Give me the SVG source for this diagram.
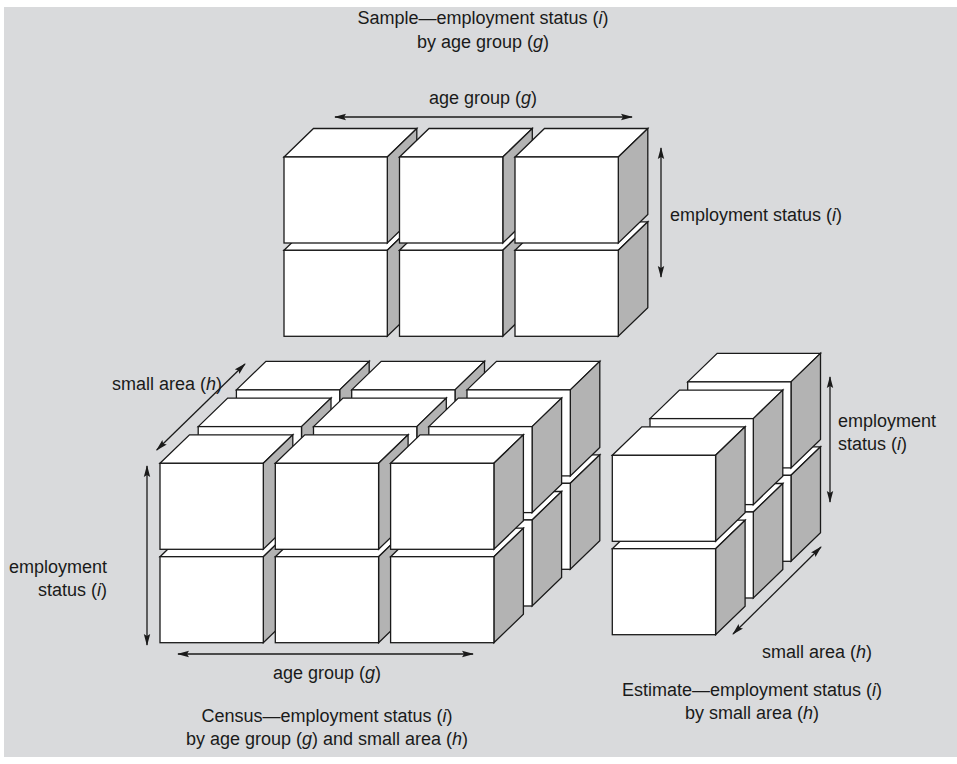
<svg xmlns="http://www.w3.org/2000/svg" xmlns:xlink="http://www.w3.org/1999/xlink" width="957" height="764" viewBox="0 0 957 764">
<style>
.face{stroke:#1a1a1a;stroke-width:1.3;stroke-linejoin:miter}
.front,.top{fill:#ffffff}
.side{fill:#b3b3b3}
.lbl{font-family:"Liberation Sans",Arial,sans-serif;font-size:18px;fill:#1a1a1a}
.mid{text-anchor:middle}
.end{text-anchor:end}
.it{font-style:italic}
.arr{stroke:#1a1a1a;stroke-width:1.3;fill:none;marker-start:url(#ah);marker-end:url(#ah)}
</style>
<defs>
<marker id="ah" viewBox="0 0 12 8" refX="11" refY="4" markerWidth="12" markerHeight="8" markerUnits="userSpaceOnUse" orient="auto-start-reverse">
<path d="M0,0.8 L12,4 L0,7.2 L2,4 Z" fill="#1a1a1a"/>
</marker>
<g id="cube">
<polygon class="face top" points="0,0 29.5,-28.5 132.8,-28.5 103.3,0"/>
<polygon class="face side" points="103.3,0 132.8,-28.5 132.8,57.5 103.3,86"/>
<rect class="face front" x="0" y="0" width="103.3" height="86"/>
</g>
</defs>
<rect x="4" y="7" width="953" height="750" fill="#d9dadc"/>

<!-- Sample block -->
<g id="sample">
<g id="s-b1"><use xlink:href="#cube" x="284" y="250.3"/></g>
<g id="s-b2"><use xlink:href="#cube" x="399.5" y="250.3"/></g>
<g id="s-b3"><use xlink:href="#cube" x="515" y="250.3"/></g>
<g id="s-t1"><use xlink:href="#cube" x="284" y="157"/></g>
<g id="s-t2"><use xlink:href="#cube" x="399.5" y="157"/></g>
<g id="s-t3"><use xlink:href="#cube" x="515" y="157"/></g>
</g>

<!-- Census block: back layer first -->
<g id="census">
<g id="c-l2" transform="translate(76.4,-73.4)">
<g id="c2-b1"><use xlink:href="#cube" x="160" y="556.7"/></g>
<g id="c2-b2"><use xlink:href="#cube" x="275.3" y="556.7"/></g>
<g id="c2-b3"><use xlink:href="#cube" x="390.6" y="556.7"/></g>
<g id="c2-t1"><use xlink:href="#cube" x="160" y="463.3"/></g>
<g id="c2-t2"><use xlink:href="#cube" x="275.3" y="463.3"/></g>
<g id="c2-t3"><use xlink:href="#cube" x="390.6" y="463.3"/></g>
</g>
<g id="c-l1" transform="translate(38.2,-36.7)">
<g id="c1-b1"><use xlink:href="#cube" x="160" y="556.7"/></g>
<g id="c1-b2"><use xlink:href="#cube" x="275.3" y="556.7"/></g>
<g id="c1-b3"><use xlink:href="#cube" x="390.6" y="556.7"/></g>
<g id="c1-t1"><use xlink:href="#cube" x="160" y="463.3"/></g>
<g id="c1-t2"><use xlink:href="#cube" x="275.3" y="463.3"/></g>
<g id="c1-t3"><use xlink:href="#cube" x="390.6" y="463.3"/></g>
</g>
<g id="c-l0">
<g id="c0-b1"><use xlink:href="#cube" x="160" y="556.7"/></g>
<g id="c0-b2"><use xlink:href="#cube" x="275.3" y="556.7"/></g>
<g id="c0-b3"><use xlink:href="#cube" x="390.6" y="556.7"/></g>
<g id="c0-t1"><use xlink:href="#cube" x="160" y="463.3"/></g>
<g id="c0-t2"><use xlink:href="#cube" x="275.3" y="463.3"/></g>
<g id="c0-t3"><use xlink:href="#cube" x="390.6" y="463.3"/></g>
</g>
</g>

<!-- Estimate block -->
<g id="estimate">
<g id="e2-b"><use xlink:href="#cube" x="687.7" y="475.3"/></g>
<g id="e2-t"><use xlink:href="#cube" x="687.7" y="381.9"/></g>
<g id="e1-b"><use xlink:href="#cube" x="650" y="512"/></g>
<g id="e1-t"><use xlink:href="#cube" x="650" y="418.6"/></g>
<g id="e0-b"><use xlink:href="#cube" x="612.3" y="548.7"/></g>
<g id="e0-t"><use xlink:href="#cube" x="612.3" y="455.3"/></g>
</g>

<g id="connectors">
<line class="arr" x1="335" y1="117" x2="632" y2="117"/>
<line class="arr" x1="661" y1="148" x2="661" y2="277"/>
<line class="arr" x1="156.7" y1="450" x2="245" y2="364"/>
<line class="arr" x1="147" y1="466" x2="147" y2="645"/>
<line class="arr" x1="178" y1="654" x2="473" y2="654"/>
<line class="arr" x1="830" y1="377" x2="830" y2="502"/>
<line class="arr" x1="733" y1="634" x2="821" y2="547"/>
</g>

<g id="labels">
<text class="lbl mid" x="483" y="24">Sample—employment status (<tspan class="it">i</tspan>)</text>
<text class="lbl mid" x="483" y="48">by age group (<tspan class="it">g</tspan>)</text>
<text class="lbl mid" x="483" y="104">age group (<tspan class="it">g</tspan>)</text>
<text class="lbl" x="670" y="221">employment status (<tspan class="it">i</tspan>)</text>
<text class="lbl end" x="222" y="390">small area (<tspan class="it">h</tspan>)</text>
<text class="lbl end" x="107" y="573">employment</text>
<text class="lbl end" x="107" y="596">status (<tspan class="it">i</tspan>)</text>
<text class="lbl mid" x="327" y="679">age group (<tspan class="it">g</tspan>)</text>
<text class="lbl mid" x="327" y="722">Census—employment status (<tspan class="it">i</tspan>)</text>
<text class="lbl mid" x="327" y="745">by age group (<tspan class="it">g</tspan>) and small area (<tspan class="it">h</tspan>)</text>
<text class="lbl" x="838" y="427">employment</text>
<text class="lbl" x="838" y="450">status (<tspan class="it">i</tspan>)</text>
<text class="lbl" x="762" y="658">small area (<tspan class="it">h</tspan>)</text>
<text class="lbl mid" x="752" y="696">Estimate—employment status (<tspan class="it">i</tspan>)</text>
<text class="lbl mid" x="752" y="719">by small area (<tspan class="it">h</tspan>)</text>
</g>
</svg>
